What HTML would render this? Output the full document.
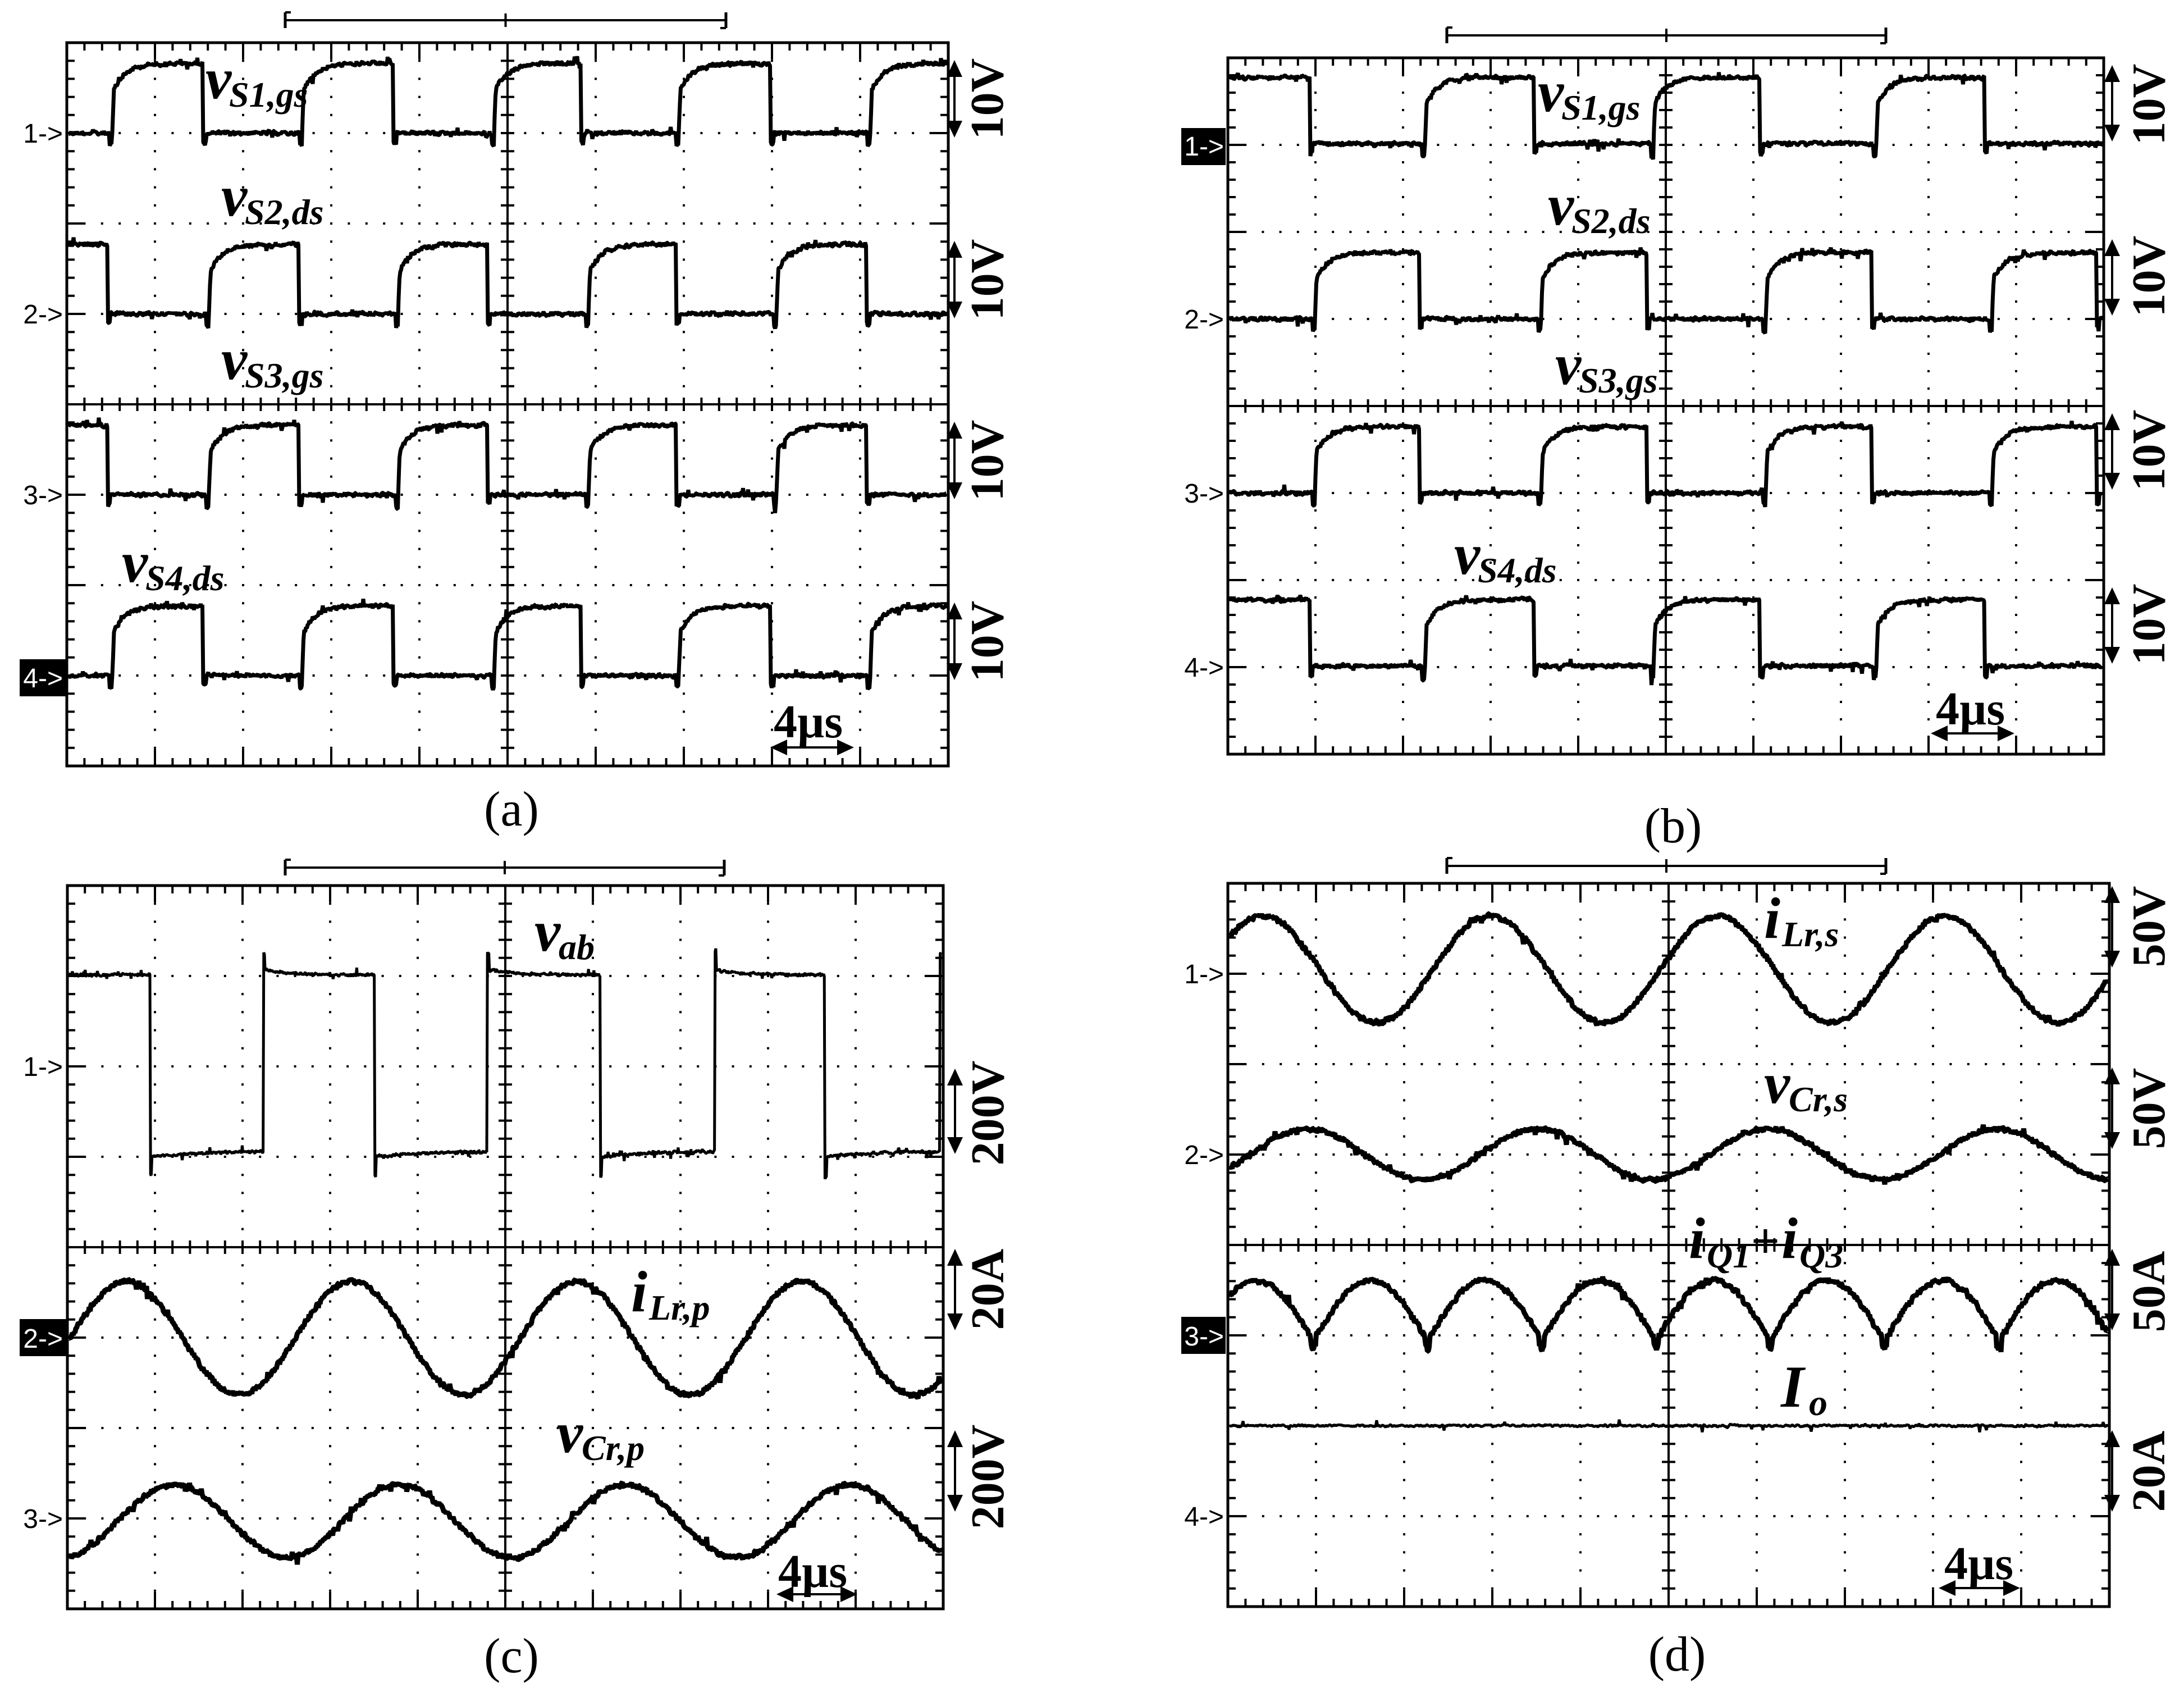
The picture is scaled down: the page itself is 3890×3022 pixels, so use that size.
<!DOCTYPE html>
<html><head><meta charset="utf-8">
<style>
html,body{margin:0;padding:0;background:#fff;}
svg{display:block;}
.lb{font-family:"Liberation Serif",serif;font-weight:bold;font-style:italic;fill:#000;}
.sc{font-family:"Liberation Serif",serif;font-weight:bold;font-size:84px;fill:#000;}
.ch{font-family:"Liberation Sans",sans-serif;font-size:48px;fill:#000;}
.cap{font-family:"Liberation Serif",serif;font-size:88px;fill:#000;}
</style></head>
<body>
<svg id="s" xmlns="http://www.w3.org/2000/svg" width="3890" height="3022" viewBox="0 0 3890 3022">
<rect width="3890" height="3022" fill="#fff"/>
<g id="g"></g>
<g id="labels">
<!-- (a) -->
<text class="lb" x="366" y="175" font-size="104">v</text><text class="lb" x="408" y="190" font-size="64">S1,gs</text>
<text class="lb" x="394" y="384" font-size="104">v</text><text class="lb" x="436" y="399" font-size="64">S2,ds</text>
<text class="lb" x="394" y="675" font-size="104">v</text><text class="lb" x="436" y="690" font-size="64">S3,gs</text>
<text class="lb" x="217" y="1036" font-size="104">v</text><text class="lb" x="259" y="1051" font-size="64">S4,ds</text>
<!-- (b) -->
<text class="lb" x="2739" y="198" font-size="104">v</text><text class="lb" x="2781" y="213" font-size="64">S1,gs</text>
<text class="lb" x="2757" y="400" font-size="104">v</text><text class="lb" x="2799" y="415" font-size="64">S2,ds</text>
<text class="lb" x="2770" y="684" font-size="104">v</text><text class="lb" x="2812" y="699" font-size="64">S3,gs</text>
<text class="lb" x="2590" y="1022" font-size="104">v</text><text class="lb" x="2632" y="1037" font-size="64">S4,ds</text>
<!-- (c) -->
<text class="lb" x="952" y="1693" font-size="104">v</text><text class="lb" x="995" y="1708" font-size="64">ab</text>
<text class="lb" x="1124" y="2335" font-size="104">i</text><text class="lb" x="1156" y="2350" font-size="64">Lr,p</text>
<text class="lb" x="992" y="2586" font-size="104">v</text><text class="lb" x="1036" y="2600" font-size="64">Cr,p</text>
<!-- (d) -->
<text class="lb" x="3142" y="1670" font-size="104">i</text><text class="lb" x="3174" y="1685" font-size="64">Lr,s</text>
<text class="lb" x="3142" y="1964" font-size="104">v</text><text class="lb" x="3186" y="1979" font-size="64">Cr,s</text>
<text class="lb" x="3008" y="2240" font-size="104">i</text><text class="lb" x="3040" y="2257" font-size="64">Q1</text>
<text class="lb" x="3118" y="2240" font-size="90" font-style="normal">+</text>
<text class="lb" x="3173" y="2240" font-size="104">i</text><text class="lb" x="3205" y="2257" font-size="64">Q3</text>
<text class="lb" x="3172" y="2505" font-size="106">I</text><text class="lb" x="3222" y="2520" font-size="66">o</text>
<!-- scale labels -->
<text class="sc" text-anchor="middle" transform="translate(1786,176) rotate(-90)">10V</text>
<text class="sc" text-anchor="middle" transform="translate(1786,498) rotate(-90)">10V</text>
<text class="sc" text-anchor="middle" transform="translate(1786,820) rotate(-90)">10V</text>
<text class="sc" text-anchor="middle" transform="translate(1786,1142) rotate(-90)">10V</text>
<text class="sc" text-anchor="middle" transform="translate(3855,186) rotate(-90)">10V</text>
<text class="sc" text-anchor="middle" transform="translate(3855,492) rotate(-90)">10V</text>
<text class="sc" text-anchor="middle" transform="translate(3855,802) rotate(-90)">10V</text>
<text class="sc" text-anchor="middle" transform="translate(3855,1112) rotate(-90)">10V</text>
<text class="sc" text-anchor="middle" transform="translate(1787,1982) rotate(-90)">200V</text>
<text class="sc" text-anchor="middle" transform="translate(1787,2296) rotate(-90)">20A</text>
<text class="sc" text-anchor="middle" transform="translate(1787,2630) rotate(-90)">200V</text>
<text class="sc" text-anchor="middle" transform="translate(3855,1650) rotate(-90)">50V</text>
<text class="sc" text-anchor="middle" transform="translate(3855,1974) rotate(-90)">50V</text>
<text class="sc" text-anchor="middle" transform="translate(3855,2300) rotate(-90)">50A</text>
<text class="sc" text-anchor="middle" transform="translate(3855,2620) rotate(-90)">20A</text>
<!-- time scale -->
<text class="sc" x="1378" y="1313">4µs</text>
<text class="sc" x="3448" y="1290">4µs</text>
<text class="sc" x="1386" y="2826">4µs</text>
<text class="sc" x="3463" y="2812">4µs</text>
<!-- captions -->
<text class="cap" text-anchor="middle" x="911" y="1470">(a)</text>
<text class="cap" text-anchor="middle" x="2980" y="1500">(b)</text>
<text class="cap" text-anchor="middle" x="911" y="2978">(c)</text>
<text class="cap" text-anchor="middle" x="2987" y="2975">(d)</text>
<!-- channel markers -->
<text class="ch" text-anchor="end" x="112" y="254">1-&gt;</text>
<text class="ch" text-anchor="end" x="112" y="576">2-&gt;</text>
<text class="ch" text-anchor="end" x="112" y="898">3-&gt;</text>
<rect x="35" y="1174" width="83" height="66" fill="#000"/>
<text class="ch" text-anchor="end" x="112" y="1224" style="fill:#fff">4-&gt;</text>
<rect x="2104" y="228" width="79" height="66" fill="#000"/>
<text class="ch" text-anchor="end" x="2180" y="277" style="fill:#fff">1-&gt;</text>
<text class="ch" text-anchor="end" x="2180" y="585">2-&gt;</text>
<text class="ch" text-anchor="end" x="2180" y="895">3-&gt;</text>
<text class="ch" text-anchor="end" x="2180" y="1205">4-&gt;</text>
<text class="ch" text-anchor="end" x="112" y="1916">1-&gt;</text>
<rect x="35" y="2349" width="83" height="66" fill="#000"/>
<text class="ch" text-anchor="end" x="112" y="2400" style="fill:#fff">2-&gt;</text>
<text class="ch" text-anchor="end" x="112" y="2721">3-&gt;</text>
<text class="ch" text-anchor="end" x="2180" y="1751">1-&gt;</text>
<text class="ch" text-anchor="end" x="2180" y="2073">2-&gt;</text>
<rect x="2104" y="2345" width="79" height="66" fill="#000"/>
<text class="ch" text-anchor="end" x="2180" y="2396" style="fill:#fff">3-&gt;</text>
<text class="ch" text-anchor="end" x="2180" y="2717">4-&gt;</text>
</g>
</svg>
<script>
(function(){
var g=document.getElementById("g");
var out=[];
var seed=12345;
function rnd(){seed=(seed*1103515245+12345)&0x7fffffff;return seed/0x7fffffff;}
function ln(x1,y1,x2,y2,w){out.push('<line x1="'+x1+'" y1="'+y1+'" x2="'+x2+'" y2="'+y2+'" stroke="#000" stroke-width="'+(w||4)+'"/>');}
function grid(p){
  var x0=p.x0,y0=p.y0,dx=p.dx,dy=p.dy,W=dx*10,H=dy*8,x1=x0+W,y1=y0+H;
  out.push('<rect x="'+x0+'" y="'+y0+'" width="'+W+'" height="'+H+'" fill="none" stroke="#000" stroke-width="5"/>');
  var cx=x0+5*dx, cy=y0+4*dy;
  ln(cx,y0,cx,y1,4); ln(x0,cy,x1,cy,4);
  var k,i,x,y;
  var d='';
  for(i=1;i<10;i++){ if(i==5)continue; x=x0+i*dx;
    for(k=1;k<40;k++){ y=y0+k*dy/5; d+='M'+(x-2)+' '+(y-2)+'h4v4h-4z';}}
  for(i=1;i<8;i++){ if(i==4)continue; y=y0+i*dy;
    for(k=1;k<50;k++){ if(k%5==0)continue; x=x0+k*dx/5; d+='M'+(x-2)+' '+(y-2)+'h4v4h-4z';}}
  out.push('<path d="'+d+'" fill="#000"/>');
  var t='';
  for(k=1;k<50;k++){ x=x0+k*dx/5; var L=(k%5==0)?30:14;
    t+='M'+x+' '+y0+'v'+L+'M'+x+' '+y1+'v-'+L+'M'+x+' '+(cy-12)+'v24';}
  for(k=1;k<40;k++){ y=y0+k*dy/5; var L2=(k%5==0)?30:14;
    t+='M'+x0+' '+y+'h'+L2+'M'+x1+' '+y+'h-'+L2+'M'+(cx-12)+' '+y+'h24';}
  out.push('<path d="'+t+'" stroke="#000" stroke-width="4" fill="none"/>');
  var bx1=p.b1,bx2=p.b2,by=p.by;
  ln(bx1,by,bx2,by,4); ln(bx1,by-14,bx1,by+14,5); ln(bx2,by-14,bx2,by+14,5); ln((bx1+bx2)/2,by-12,(bx1+bx2)/2,by+12,4);
  ln(bx1,by-14,bx1+10,by-14,4); ln(bx2,by+14,bx2-10,by+14,4);
}
function trace(f,xa,xb,noise,w,step){
  step=step||1.5; var d='';
  for(var x=xa;x<=xb;x+=step){
    var y=f(x)+(rnd()-0.5)*2*noise;
    if(rnd()<0.05) y+=(rnd()-0.5)*22;
    d+=(d?'L':'M')+x.toFixed(1)+' '+y.toFixed(1);
  }
  out.push('<path d="'+d+'" fill="none" stroke="#000" stroke-width="'+w+'" stroke-linejoin="bevel"/>');
}
function sq(L,A,startHigh,edges){
  return function(x){
    var st=startHigh,last=null;
    for(var i=0;i<edges.length;i++){ if(edges[i]<=x){st=!st;last=edges[i];} }
    var nxt=null; for(i=0;i<edges.length;i++){ if(edges[i]>x){nxt=edges[i];break;} }
    if(st){
      if(last===null) return L-A;
      var t=x-last;
      if(t<3) return L-0.62*A*(t/3);
      return L-A+0.38*A*Math.exp(-(t-3)/22);
    } else {
      if(last!==null && x-last<5) return L+18;
      if(nxt!==null && nxt-x<5) return L+22;
      return L;
    }
  };
}
function arrowV(x,ya,yb){
  ln(x,ya+24,x,yb-24,4);
  out.push('<polygon points="'+x+','+ya+' '+(x-14)+','+(ya+30)+' '+(x+14)+','+(ya+30)+'" fill="#000"/>');
  out.push('<polygon points="'+x+','+yb+' '+(x-14)+','+(yb-30)+' '+(x+14)+','+(yb-30)+'" fill="#000"/>');
}
function arrowH(y,xa,xb){
  ln(xa+24,y,xb-24,y,4);
  out.push('<polygon points="'+xa+','+y+' '+(xa+30)+','+(y-14)+' '+(xa+30)+','+(y+14)+'" fill="#000"/>');
  out.push('<polygon points="'+xb+','+y+' '+(xb-30)+','+(y-14)+' '+(xb-30)+','+(y+14)+'" fill="#000"/>');
}
var A={x0:119,y0:76,dx:157,dy:161,b1:508,b2:1293,by:36};
var B={x0:2187,y0:103,dx:156,dy:155,b1:2577,b2:3359,by:63};
var C={x0:120,y0:1577,dx:156,dy:161,b1:508,b2:1290,by:1545};
var D={x0:2187,y0:1573,dx:157,dy:161,b1:2577,b2:3359,by:1542};
[A,B,C,D].forEach(grid);
var ae1=[200,362,538,701,880,1035,1209,1373,1550];
var ae2=[192,372,533,709,868,1048,1205,1383,1544];
trace(sq(237,124,false,ae1),122,1686,4,7);
trace(sq(559,124,true,ae2),122,1686,4,7);
trace(sq(881,124,true,ae2),122,1686,4,7);
trace(sq(1203,124,false,ae1),122,1686,4,7);
var be1=[2333,2538,2732,2945,3135,3342,3535];
var be2=[2342,2528,2745,2933,3145,3334,3548,3734];
trace(sq(256,118,true,be1),2190,3744,4,7);
trace(sq(568,118,false,be2),2190,3744,4,7);
trace(sq(878,118,false,be2),2190,3744,4,7);
trace(sq(1186,118,true,be1),2190,3744,4,7);
var ce=[267,469,667,868,1069,1273,1469,1674];
trace(function(x){
  var st=true,last=null;
  for(var i=0;i<ce.length;i++){ if(ce[i]<=x){st=!st;last=ce[i];} }
  var t=last===null?200:x-last;
  if(st){ if(t<3) return 1697; return 1736-10*Math.exp(-t/40); }
  else { if(t<3) return 2094; return 2050+10*Math.exp(-t/90); }
},123,1677,3,5,1.2);
trace(function(x){return 2383-101*Math.cos(2*Math.PI*(x-225)/401);},123,1677,4.5,9);
trace(function(x){return 2709-65*Math.cos(2*Math.PI*(x-310)/401);},123,1677,4.5,9);
trace(function(x){return 1726-95*Math.cos(2*Math.PI*(x-2249)/405);},2190,3754,4.5,9);
trace(function(x){return 2056-45*Math.cos(2*Math.PI*(x-2329)/409);},2190,3754,4.5,9);
trace(function(x){var u=(x-2339)/203.5; var fr=u-Math.floor(u); var y=2388-108*Math.sin(Math.PI*fr);
  if(fr<0.02||fr>0.98) y+=14; return y;},2190,3754,4.5,9);
trace(function(x){return 2539;},2190,3754,2,5,2);
[237,559,881,1203].forEach(function(L){arrowV(1700,L-130,L+8);});
[258,568,878,1188].forEach(function(L){arrowV(3762,L-142,L-6);});
arrowV(1701,1903,2055); arrowV(1701,2224,2369); arrowV(1701,2547,2692);
arrowV(3762,1578,1723); arrowV(3762,1901,2046); arrowV(3762,2224,2369); arrowV(3762,2547,2692);
arrowH(1331,1372,1521); arrowH(1306,3439,3588); arrowH(2839,1383,1527); arrowH(2828,3453,3598);
g.innerHTML=out.join('');
})();
</script>
</body></html>
